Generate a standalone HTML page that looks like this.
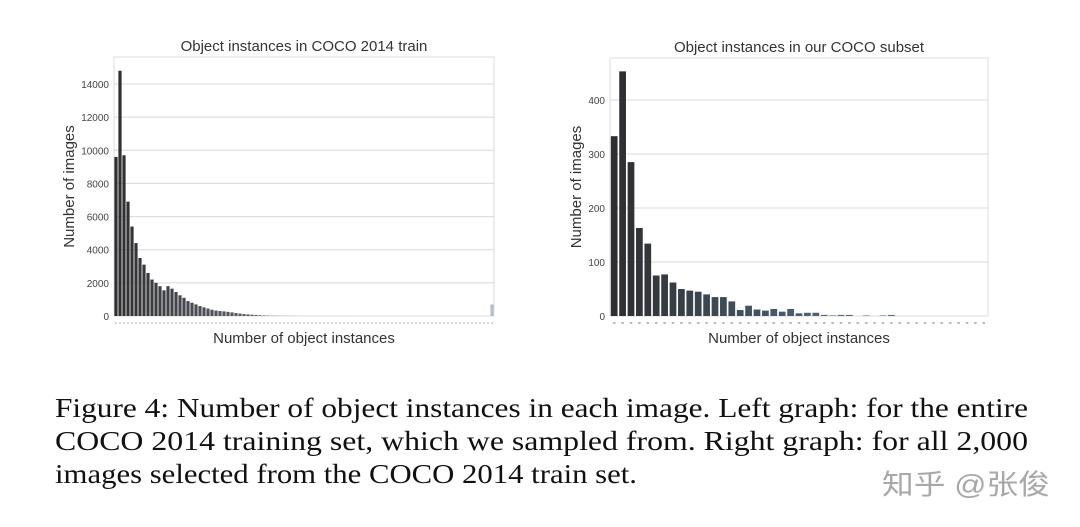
<!DOCTYPE html>
<html><head><meta charset="utf-8"><style>
html,body{margin:0;padding:0;background:#fff;width:1080px;height:527px;overflow:hidden}
</style></head><body>
<svg id="s" width="1080" height="527" xmlns="http://www.w3.org/2000/svg" font-family="Liberation Sans, sans-serif">
<rect width="1080" height="527" fill="#fff"/>
<g id="g"></g>
<g font-family="Liberation Serif, serif" font-size="27" fill="#111">
<text x="55" y="417" textLength="973" lengthAdjust="spacingAndGlyphs">Figure 4: Number of object instances in each image. Left graph: for the entire</text>
<text x="55" y="450" textLength="973" lengthAdjust="spacingAndGlyphs">COCO 2014 training set, which we sampled from. Right graph: for all 2,000</text>
<text x="55" y="483" textLength="582" lengthAdjust="spacingAndGlyphs">images selected from the COCO 2014 train set.</text>
</g>
<text x="882" y="494" font-size="28" fill="#a8a8a8" textLength="168" lengthAdjust="spacingAndGlyphs" font-family="Liberation Sans, Noto Sans CJK SC, sans-serif">知乎 @张俊</text>
</svg>
<script>
var NS="http://www.w3.org/2000/svg",g=document.getElementById('g');
function el(t,a,txt){var e=document.createElementNS(NS,t);for(var k in a)e.setAttribute(k,a[k]);if(txt!=null)e.textContent=txt;g.appendChild(e);return e;}
function mix(a,b,t){return 'rgb('+a.map((v,i)=>Math.round(v+(b[i]-v)*t)).join(',')+')';}
function chart(o){
 el('rect',{x:o.x0,y:o.y1,width:o.x1-o.x0,height:o.y0-o.y1,fill:'#fff',stroke:'#ddd','stroke-width':1});
 o.ticks.forEach(v=>{var y=o.y0-v*o.sc;
  if(v>0)el('line',{x1:o.x0,x2:o.x1,y1:y,y2:y,stroke:'#d8d8d8','stroke-width':1});
  el('text',{x:o.x0-5,y:y+4,'font-size':10,'text-anchor':'end',fill:'#444'},String(v));});
 var n=o.vals.length,w=(o.x1-o.x0)/n;
 o.vals.forEach((v,i)=>{var h=v*o.sc;
  el('rect',{x:o.x0+i*w+w*0.1,y:o.y0-h,width:w*0.8,height:h,fill:mix([46,46,48],o.c2,i/(n-1))});
  el('rect',{x:o.x0+i*w+w*0.35,y:o.y0+6,width:w*0.3,height:2,fill:'#bbb'});});
 el('text',{x:(o.x0+o.x1)/2,y:o.y1-6,'font-size':15,'text-anchor':'middle',fill:'#333'},o.title);
 el('text',{x:(o.x0+o.x1)/2,y:o.y0+27,'font-size':15,'text-anchor':'middle',fill:'#333'},'Number of object instances');
 el('text',{x:0,y:0,'font-size':15,'text-anchor':'middle',fill:'#333',transform:'translate('+o.yl+','+((o.y0+o.y1)/2)+') rotate(-90)'},'Number of images');
}
var L=[9600,14800,9700,6900,5400,4400,3500,3100,2600,2200,2000,1800,1550,1800,1650,1450,1250,1100,900,800,700,600,520,450,380,330,300,280,250,220,180,150,120,100,80,60,45,35,25,20,15,12,10,8,6,5,4,3];
while(L.length<94)L.push(2);L.push(700);
chart({x0:114,x1:494,y0:316,y1:57,sc:232/14000,ticks:[0,2000,4000,6000,8000,10000,12000,14000],vals:L,c2:[176,192,210],title:'Object instances in COCO 2014 train',yl:74});
var R=[333,453,285,163,134,75,77,62,50,47,45,40,35,35,27,11,19,12,10,13,8,13,5,6,6,2,1,2,2,0,1,0,1,2,0,0,0,0,0,0,0,0,0,0,0];
chart({x0:610,x1:988,y0:316,y1:58,sc:0.54,ticks:[0,100,200,300,400],vals:R,c2:[100,140,180],title:'Object instances in our COCO subset',yl:581});
</script>
</body></html>
